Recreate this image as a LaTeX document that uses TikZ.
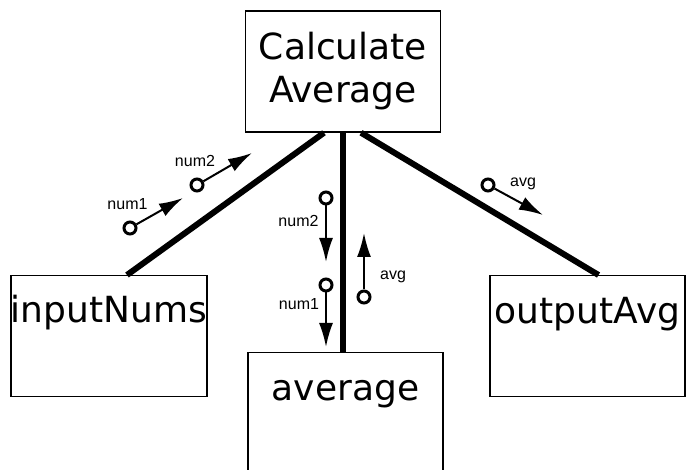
\documentclass[tikz,border=0pt]{standalone}
\usepackage{fontspec}
\setmainfont{DejaVu Sans}
\newfontfamily\lblfont{Liberation Sans}
\usepackage{tikz}
\usetikzlibrary{arrows.meta,positioning,calc}

\begin{document}
\begin{tikzpicture}[x=1pt, y=-1pt,
  unit/.style={draw, line width=1.5pt, minimum width=195pt, inner sep=0pt, font=\fontsize{36}{43}\selectfont},
  link/.style={line width=6pt},
  port/.style={circle, draw, line width=3pt, minimum size=12pt, inner sep=0pt, fill=white},
  flow/.style={-{Latex[length=24pt,width=14pt]}, line width=2pt},
  lbl/.style={font=\lblfont\fontsize{16}{16}\selectfont, anchor=base, inner sep=0pt}
]
\useasboundingbox (0,0) rectangle (686,470);

\node[unit, minimum height=121pt, align=center] (calc) at (343,71.5) {Calculate\\Average};
\node[unit, anchor=north, text height=47pt, text depth=74pt] (input) at (109,275) {inputNums};
\node[unit, anchor=north, text height=48pt, text depth=80pt] (mean) at (345.5,352) {average};
\node[unit, anchor=north, text height=48pt, text depth=73pt] (output) at (587.5,275) {outputAvg};

\draw[link] ([xshift=-19pt]calc.south) -- ([xshift=18pt]input.north);
\draw[link] (calc.south) -- (calc.south |- mean.north);
\draw[link] ([xshift=18pt]calc.south) -- ([xshift=11pt]output.north);

\node[port] (in1) at (130,228) {};
\coordinate (in1tip) at (183,198);
\draw[flow] (in1) -- (in1tip);
\node[lbl] (in1lbl) at (127.5,210) {num1};

\node[port] (in2) at (197,185) {};
\coordinate (in2tip) at (252,153);
\draw[flow] (in2) -- (in2tip);
\node[lbl] (in2lbl) at (195,167) {num2};

\node[port] (dn2) at (326,198) {};
\coordinate (dn2tip) at (326,262);
\draw[flow] (dn2) -- (dn2tip);
\node[lbl] (dn2lbl) at (298.5,227) {num2};

\node[port] (dn1) at (326,285) {};
\coordinate (dn1tip) at (326,347);
\draw[flow] (dn1) -- (dn1tip);
\node[lbl] (dn1lbl) at (299,310) {num1};

\node[port] (up) at (364,297) {};
\coordinate (uptip) at (364,233);
\draw[flow] (up) -- (uptip);
\node[lbl] (uplbl) at (393,280) {avg};

\node[port] (out) at (488,185) {};
\coordinate (outtip) at (543,215);
\draw[flow] (out) -- (outtip);
\node[lbl] (outlbl) at (523,187) {avg};

\end{tikzpicture}
\end{document}
